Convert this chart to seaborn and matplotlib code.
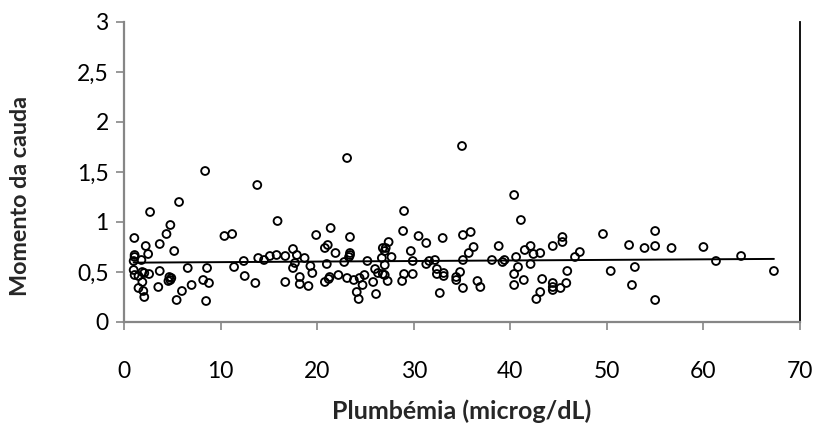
import numpy as np
import pandas as pd
import seaborn as sns
import matplotlib.pyplot as plt

plumbemia = [
    1.07, 1.1, 1.1, 1.0, 1.8, 1.0, 1.1, 1.5, 1.9, 2.1, 2.6, 1.9, 1.5, 2.0, 2.1, 2.25, 2.5, 2.7,
    3.7, 3.7, 3.55, 4.4, 4.8, 5.2, 5.7, 4.7, 4.9, 4.8, 4.6, 6.6, 6.0, 7.0, 5.45, 8.4, 8.6, 8.2,
    8.8, 8.5, 10.4, 11.2, 11.4, 12.4, 12.5, 13.6, 13.8, 13.9, 14.5, 15.1, 15.8, 15.9, 16.7, 16.7,
    17.5, 17.5,
    23.1, 35.0, 29.0, 21.4, 19.9, 23.4, 28.9, 30.5, 33.0, 35.1, 31.3, 17.9, 18.7, 17.7, 19.3,
    19.5, 18.2, 18.2, 19.1, 20.8, 21.1, 21.9, 21.0, 20.8, 21.3, 21.2, 22.2, 23.1, 22.8, 23.3,
    23.4, 23.4, 23.8, 24.1, 24.3, 24.4, 24.7, 24.9, 25.2, 25.8, 26.1, 26.0, 26.3, 26.8, 27.1,
    27.0, 27.4, 27.7, 26.7, 27.0, 26.8, 27.0, 27.3, 28.8, 29.0, 29.7, 29.9, 29.9, 31.3, 31.6,
    32.2, 32.4, 32.4, 33.1, 33.1, 32.7, 34.4, 34.4, 34.8, 35.1, 35.1,
    40.4, 41.1, 35.9, 36.2, 35.7, 36.6, 36.9, 38.1, 38.8, 39.2, 39.4, 40.6, 40.8, 40.4, 40.4,
    41.5, 42.1, 42.4, 43.1, 42.1, 41.4, 43.3, 43.1, 42.7, 44.4, 45.4, 45.4, 44.4, 44.4, 44.4,
    45.2, 45.8, 45.9, 46.7, 47.2, 49.6, 50.4, 52.3, 52.9, 52.6,
    53.9, 55.0, 55.0, 55.0, 56.7, 60.0, 61.3, 63.9, 67.3,
]
momento = [
    0.84, 0.67, 0.65, 0.61, 0.62, 0.52, 0.47, 0.46, 0.50, 0.49, 0.48, 0.40, 0.34, 0.31, 0.25,
    0.76, 0.68, 1.10, 0.78, 0.51, 0.35, 0.88, 0.97, 0.71, 1.20, 0.45, 0.44, 0.42, 0.41, 0.54,
    0.31, 0.37, 0.22, 1.51, 0.54, 0.42, 0.39, 0.21, 0.86, 0.88, 0.55, 0.61, 0.46, 0.39, 1.37,
    0.64, 0.62, 0.66, 0.67, 1.01, 0.66, 0.40, 0.73, 0.54,
    1.64, 1.76, 1.11, 0.94, 0.87, 0.85, 0.91, 0.86, 0.84, 0.87, 0.79, 0.67, 0.64, 0.59, 0.56,
    0.49, 0.45, 0.38, 0.36, 0.74, 0.77, 0.69, 0.58, 0.40, 0.45, 0.43, 0.47, 0.44, 0.60, 0.65,
    0.69, 0.67, 0.42, 0.30, 0.23, 0.44, 0.37, 0.47, 0.61, 0.40, 0.28, 0.53, 0.49, 0.74, 0.74,
    0.71, 0.80, 0.65, 0.64, 0.57, 0.48, 0.47, 0.41, 0.41, 0.48, 0.71, 0.61, 0.48, 0.58, 0.61,
    0.62, 0.53, 0.48, 0.49, 0.46, 0.29, 0.45, 0.42, 0.50, 0.34, 0.62,
    1.27, 1.02, 0.90, 0.75, 0.69, 0.41, 0.35, 0.62, 0.76, 0.60, 0.62, 0.65, 0.55, 0.48, 0.37,
    0.72, 0.76, 0.68, 0.69, 0.58, 0.42, 0.43, 0.30, 0.23, 0.76, 0.85, 0.80, 0.39, 0.35, 0.32,
    0.34, 0.39, 0.51, 0.65, 0.70, 0.88, 0.51, 0.77, 0.55, 0.37,
    0.74, 0.91, 0.76, 0.22, 0.74, 0.75, 0.61, 0.66, 0.51,
]

x_ticks = [0, 10, 20, 30, 40, 50, 60, 70]
y_ticks = [0, 0.5, 1, 1.5, 2, 2.5, 3]
y_tick_labels = ["0", "0,5", "1", "1,5", "2", "2,5", "3"]
x_label = "Plumbémia (microg/dL)"
y_label = "Momento da cauda"

sns.set_theme(style="white")
plt.rcParams['font.family'] = ['Lato', 'DejaVu Sans']

df = pd.DataFrame({"x": plumbemia, "y": momento})

fig = plt.figure(figsize=(8.18, 4.32), dpi=100)
ax = fig.add_axes([124 / 818, 1 - 322 / 432, 676 / 818, 300 / 432])

sns.scatterplot(data=df, x="x", y="y", ax=ax, s=32, color="black", linewidth=1.35, zorder=3)
ax.collections[-1].set_facecolor("none")
ax.collections[-1].set_edgecolor("black")

sns.regplot(data=df, x="x", y="y", ax=ax, scatter=False, ci=None, truncate=True,
            color="black", line_kws={"linewidth": 1.4})

ax.set_xlim(0, 70)
ax.set_ylim(0, 3)
ax.set_xticks(x_ticks)
ax.set_xticklabels([str(t) for t in x_ticks])
ax.set_yticks(y_ticks)
ax.set_yticklabels(y_tick_labels)
ax.tick_params(axis="both", labelsize=16.5, colors="#868686", labelcolor="black",
               direction="out", length=6, width=1.2, left=True, bottom=True)
ax.tick_params(axis="x", pad=22)
ax.tick_params(axis="y", pad=5)

for side in ["left", "bottom"]:
    ax.spines[side].set_color("#868686")
    ax.spines[side].set_linewidth(1.6)
ax.spines["right"].set_color("black")
ax.spines["right"].set_linewidth(1.3)
ax.spines["top"].set_visible(False)

ax.set_xlabel(x_label, fontsize=18, fontweight="bold", labelpad=12.5)
ax.set_ylabel(y_label, fontsize=16.8, fontweight="bold")
ax.yaxis.set_label_coords(-0.138, 0.42)

fig.savefig("out.png", dpi=100)
